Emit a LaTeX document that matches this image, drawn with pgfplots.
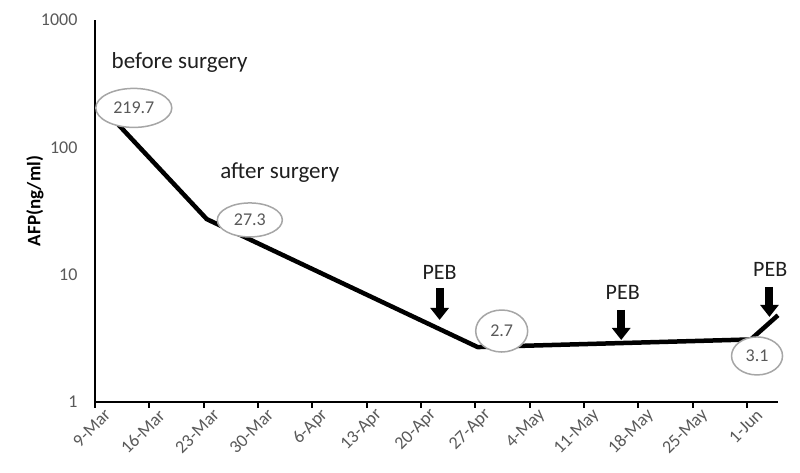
\documentclass[border=0pt]{standalone}
\usepackage{pgfplots}
\pgfplotsset{compat=1.18}
\usepackage{fontspec}
\setmainfont{Carlito}
\usetikzlibrary{shapes.geometric,arrows.meta}
\definecolor{tickgray}{HTML}{595959}
\definecolor{ellgray}{HTML}{A6A6A6}
\begin{document}
\begin{tikzpicture}
\useasboundingbox (0,0) rectangle (800pt,472pt);
\begin{axis}[
  at={(95pt,70pt)}, anchor=south west,
  scale only axis, width=683pt, height=382pt,
  xmin=0, xmax=88, ymin=1, ymax=1000, ymode=log,
  clip=false,
  axis x line*=bottom, axis y line*=left,
  axis line style={line width=2.2pt, -},
  xtick={0,7,...,84},
  xticklabels={9-Mar,16-Mar,23-Mar,30-Mar,6-Apr,13-Apr,20-Apr,27-Apr,4-May,11-May,18-May,25-May,1-Jun},
  xticklabel style={rotate=45, anchor=east, text=tickgray, font=\fontsize{18}{20}\selectfont, inner sep=1pt, yshift=-12pt, xshift=7pt},
  xtick style={line width=2pt, black},
  tick align=outside, major tick length=6pt,
  ytick={1,10,100,1000}, yticklabels={1,10,100,1000},
  ytick style={draw=none},
  yticklabel style={text=tickgray, font=\fontsize{18}{20}\selectfont, xshift=-8pt},
  minor tick num=0,
  /pgf/number format/assume math mode=true,
  ylabel={\bfseries AFP(ng/ml)},
  every axis y label/.style={at={(axis description cs:-0.088,0.526)}, rotate=90, anchor=center, font=\fontsize{19}{22}\selectfont},
]
\addplot[line width=4.5pt, black, line join=round] coordinates {(0.5,219.7) (14.4,27.3) (49.3,2.7) (84.5,3.1) (88,4.8)};

\tikzset{ell/.style={ellipse, draw=ellgray, fill=white, line width=1.5pt, inner sep=0pt, text=tickgray, font=\fontsize{18}{20}\selectfont}}
\node[ell, minimum width=76pt, minimum height=39pt] at (axis cs:5,204) {219.7};
\node[ell, minimum width=65pt, minimum height=34pt] at (axis cs:19.95,26.9) {27.3};
\node[ell, minimum width=52pt, minimum height=42pt] at (axis cs:52.4,3.61) {2.7};
\node[ell, minimum width=51pt, minimum height=38pt] at (axis cs:85.3,2.30) {3.1};

\node[font=\fontsize{23}{26}\selectfont, text=black!88] at (axis cs:10.9,460) {before surgery};
\node[font=\fontsize{23}{26}\selectfont, text=black!88] at (axis cs:23.8,63) {after surgery};

\tikzset{peb/.style={font=\fontsize{22}{26}\selectfont, text=black!88}}
\node[peb] at (axis cs:44.4,10.33) {PEB};
\node[peb] at (axis cs:68,7.19) {PEB};
\node[peb] at (axis cs:87,10.9) {PEB};

\tikzset{parr/.style={line width=8pt, -{Triangle[length=12pt,width=18pt]}}}
\draw[parr] (axis cs:44.4,7.86) -- (axis cs:44.4,4.41);
\draw[parr] (axis cs:67.8,5.28) -- (axis cs:67.8,3.07);
\draw[parr] (axis cs:86.9,8.03) -- (axis cs:86.9,4.66);
\end{axis}
\end{tikzpicture}
\end{document}
